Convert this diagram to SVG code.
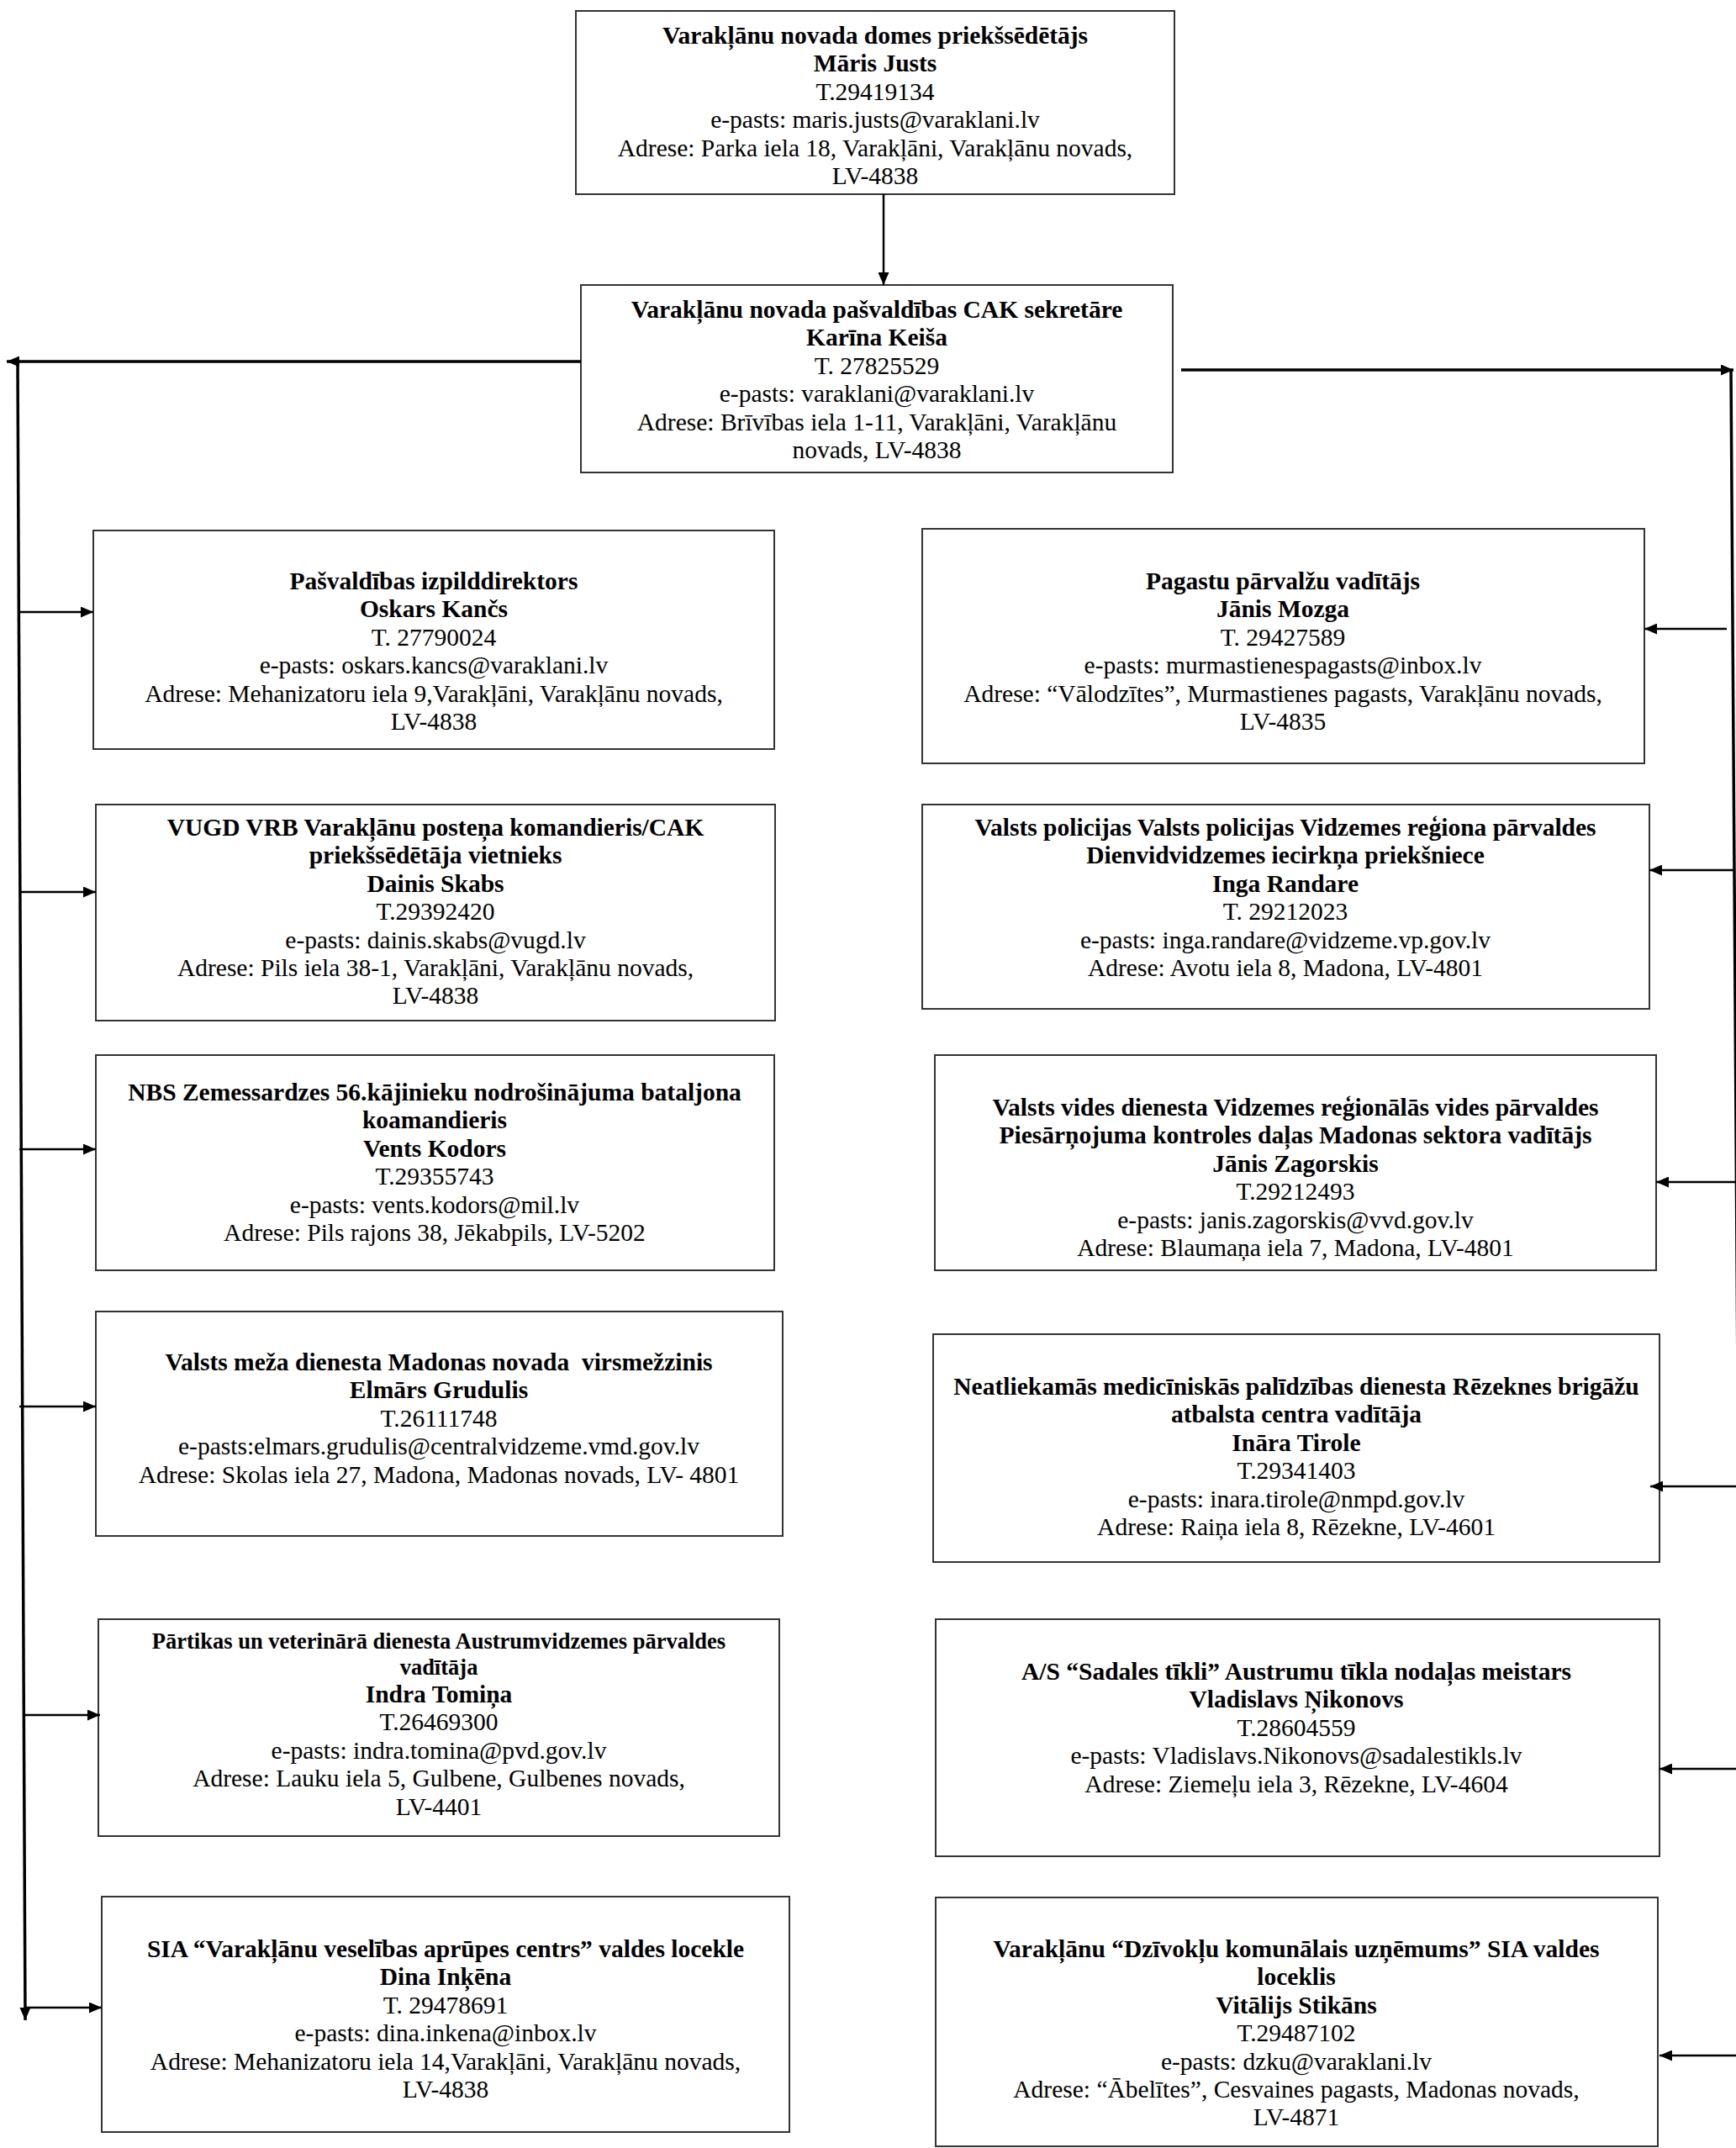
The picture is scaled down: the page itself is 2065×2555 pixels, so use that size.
<svg xmlns="http://www.w3.org/2000/svg" width="2065" height="2555" viewBox="0 0 2065 2555">
<style>
.bg{fill:#fff}
.box{fill:#fff;stroke:#333;stroke-width:2}
.t{font-family:"Liberation Serif","Times New Roman",serif;font-size:29.5px;text-anchor:middle;fill:#000}
.b{font-weight:bold}
.s{font-size:26.5px}
.ln{stroke:#000;stroke-width:2.5;fill:none}
.tr{stroke:#000;stroke-width:3.5;fill:none}
</style>
<defs>
<marker id="ah" viewBox="0 0 15 13" refX="15" refY="6.5" markerWidth="15" markerHeight="13" orient="auto" markerUnits="userSpaceOnUse">
<path d="M0,0 L15,6.5 L0,13 z" fill="#000"/>
</marker>
</defs>
<rect class="bg" x="0" y="0" width="2065" height="2555"/>

<g id="n-top">
<rect class="box" x="685" y="13" width="712" height="218"/>
<text class="t b" x="1041" y="52">Varakļānu novada domes priekšsēdētājs</text>
<text class="t b" x="1041" y="85.4">Māris Justs</text>
<text class="t" x="1041" y="118.8">T.29419134</text>
<text class="t" x="1041" y="152.2">e-pasts: maris.justs@varaklani.lv</text>
<text class="t" x="1041" y="185.6">Adrese: Parka iela 18, Varakļāni, Varakļānu novads,</text>
<text class="t" x="1041" y="219">LV-4838</text>
</g>

<g id="n-cak">
<rect class="box" x="691" y="339" width="704" height="223"/>
<text class="t b" x="1043" y="378">Varakļānu novada pašvaldības CAK sekretāre</text>
<text class="t b" x="1043" y="411.4">Karīna Keiša</text>
<text class="t" x="1043" y="444.8">T. 27825529</text>
<text class="t" x="1043" y="478.2">e-pasts: varaklani@varaklani.lv</text>
<text class="t" x="1043" y="511.6">Adrese: Brīvības iela 1-11, Varakļāni, Varakļānu</text>
<text class="t" x="1043" y="545">novads, LV-4838</text>
</g>

<g id="n-l1">
<rect class="box" x="111" y="631" width="810" height="260"/>
<text class="t b" x="516" y="701">Pašvaldības izpilddirektors</text>
<text class="t b" x="516" y="734.4">Oskars Kančs</text>
<text class="t" x="516" y="767.8">T. 27790024</text>
<text class="t" x="516" y="801.2">e-pasts: oskars.kancs@varaklani.lv</text>
<text class="t" x="516" y="834.6">Adrese: Mehanizatoru iela 9,Varakļāni, Varakļānu novads,</text>
<text class="t" x="516" y="868">LV-4838</text>
</g>

<g id="n-l2">
<rect class="box" x="114" y="957" width="808" height="257"/>
<text class="t b" x="518" y="994">VUGD VRB Varakļānu posteņa komandieris/CAK</text>
<text class="t b" x="518" y="1027.4">priekšsēdētāja vietnieks</text>
<text class="t b" x="518" y="1060.8">Dainis Skabs</text>
<text class="t" x="518" y="1094.2">T.29392420</text>
<text class="t" x="518" y="1127.6">e-pasts: dainis.skabs@vugd.lv</text>
<text class="t" x="518" y="1161">Adrese: Pils iela 38-1, Varakļāni, Varakļānu novads,</text>
<text class="t" x="518" y="1194.4">LV-4838</text>
</g>

<g id="n-l3">
<rect class="box" x="114" y="1255" width="807" height="256"/>
<text class="t b" x="517" y="1309">NBS Zemessardzes 56.kājinieku nodrošinājuma bataljona</text>
<text class="t b" x="517" y="1342.4">koamandieris</text>
<text class="t b" x="517" y="1375.8">Vents Kodors</text>
<text class="t" x="517" y="1409.2">T.29355743</text>
<text class="t" x="517" y="1442.6">e-pasts: vents.kodors@mil.lv</text>
<text class="t" x="517" y="1476">Adrese: Pils rajons 38, Jēkabpils, LV-5202</text>
</g>

<g id="n-l4">
<rect class="box" x="114" y="1560" width="817" height="267"/>
<text class="t b" x="522" y="1630" xml:space="preserve">Valsts meža dienesta Madonas novada  virsmežzinis</text>
<text class="t b" x="522" y="1663.4">Elmārs Grudulis</text>
<text class="t" x="522" y="1696.8">T.26111748</text>
<text class="t" x="522" y="1730.2">e-pasts:elmars.grudulis@centralvidzeme.vmd.gov.lv</text>
<text class="t" x="522" y="1763.6">Adrese: Skolas iela 27, Madona, Madonas novads, LV- 4801</text>
</g>

<g id="n-l5">
<rect class="box" x="117" y="1926" width="810" height="258"/>
<text class="t b s" x="522" y="1961">Pārtikas un veterinārā dienesta Austrumvidzemes pārvaldes</text>
<text class="t b s" x="522" y="1992">vadītāja</text>
<text class="t b" x="522" y="2025">Indra Tomiņa</text>
<text class="t" x="522" y="2058.4">T.26469300</text>
<text class="t" x="522" y="2091.8">e-pasts: indra.tomina@pvd.gov.lv</text>
<text class="t" x="522" y="2125.2">Adrese: Lauku iela 5, Gulbene, Gulbenes novads,</text>
<text class="t" x="522" y="2158.6">LV-4401</text>
</g>

<g id="n-l6">
<rect class="box" x="121" y="2256" width="818" height="280"/>
<text class="t b" x="530" y="2328">SIA “Varakļānu veselības aprūpes centrs” valdes locekle</text>
<text class="t b" x="530" y="2361.4">Dina Inķēna</text>
<text class="t" x="530" y="2394.8">T. 29478691</text>
<text class="t" x="530" y="2428.2">e-pasts: dina.inkena@inbox.lv</text>
<text class="t" x="530" y="2461.6">Adrese: Mehanizatoru iela 14,Varakļāni, Varakļānu novads,</text>
<text class="t" x="530" y="2495">LV-4838</text>
</g>

<g id="n-r1">
<rect class="box" x="1097" y="629" width="859" height="279"/>
<text class="t b" x="1526" y="701">Pagastu pārvalžu vadītājs</text>
<text class="t b" x="1526" y="734.4">Jānis Mozga</text>
<text class="t" x="1526" y="767.8">T. 29427589</text>
<text class="t" x="1526" y="801.2">e-pasts: murmastienespagasts@inbox.lv</text>
<text class="t" x="1526" y="834.6">Adrese: “Vālodzītes”, Murmastienes pagasts, Varakļānu novads,</text>
<text class="t" x="1526" y="868">LV-4835</text>
</g>

<g id="n-r2">
<rect class="box" x="1097" y="957" width="865" height="243"/>
<text class="t b" x="1529" y="994">Valsts policijas Valsts policijas Vidzemes reģiona pārvaldes</text>
<text class="t b" x="1529" y="1027.4">Dienvidvidzemes iecirkņa priekšniece</text>
<text class="t b" x="1529" y="1060.8">Inga Randare</text>
<text class="t" x="1529" y="1094.2">T. 29212023</text>
<text class="t" x="1529" y="1127.6">e-pasts: inga.randare@vidzeme.vp.gov.lv</text>
<text class="t" x="1529" y="1161">Adrese: Avotu iela 8, Madona, LV-4801</text>
</g>

<g id="n-r3">
<rect class="box" x="1112" y="1255" width="858" height="256"/>
<text class="t b" x="1541" y="1327">Valsts vides dienesta Vidzemes reģionālās vides pārvaldes</text>
<text class="t b" x="1541" y="1360.4">Piesārņojuma kontroles daļas Madonas sektora vadītājs</text>
<text class="t b" x="1541" y="1393.8">Jānis Zagorskis</text>
<text class="t" x="1541" y="1427.2">T.29212493</text>
<text class="t" x="1541" y="1460.6">e-pasts: janis.zagorskis@vvd.gov.lv</text>
<text class="t" x="1541" y="1494">Adrese: Blaumaņa iela 7, Madona, LV-4801</text>
</g>

<g id="n-r4">
<rect class="box" x="1110" y="1587" width="864" height="271"/>
<text class="t b" x="1542" y="1659">Neatliekamās medicīniskās palīdzības dienesta Rēzeknes brigāžu</text>
<text class="t b" x="1542" y="1692.4">atbalsta centra vadītāja</text>
<text class="t b" x="1542" y="1725.8">Ināra Tirole</text>
<text class="t" x="1542" y="1759.2">T.29341403</text>
<text class="t" x="1542" y="1792.6">e-pasts: inara.tirole@nmpd.gov.lv</text>
<text class="t" x="1542" y="1826">Adrese: Raiņa iela 8, Rēzekne, LV-4601</text>
</g>

<g id="n-r5">
<rect class="box" x="1113" y="1926" width="861" height="282"/>
<text class="t b" x="1542" y="1998">A/S “Sadales tīkli” Austrumu tīkla nodaļas meistars</text>
<text class="t b" x="1542" y="2031.4">Vladislavs Ņikonovs</text>
<text class="t" x="1542" y="2064.8">T.28604559</text>
<text class="t" x="1542" y="2098.2">e-pasts: Vladislavs.Nikonovs@sadalestikls.lv</text>
<text class="t" x="1542" y="2131.6">Adrese: Ziemeļu iela 3, Rēzekne, LV-4604</text>
</g>

<g id="n-r6">
<rect class="box" x="1113" y="2257" width="859" height="296"/>
<text class="t b" x="1542" y="2328">Varakļānu “Dzīvokļu komunālais uzņēmums” SIA valdes</text>
<text class="t b" x="1542" y="2361.4">loceklis</text>
<text class="t b" x="1542" y="2394.8">Vitālijs Stikāns</text>
<text class="t" x="1542" y="2428.2">T.29487102</text>
<text class="t" x="1542" y="2461.6">e-pasts: dzku@varaklani.lv</text>
<text class="t" x="1542" y="2495">Adrese: “Ābelītes”, Cesvaines pagasts, Madonas novads,</text>
<text class="t" x="1542" y="2528.4">LV-4871</text>
</g>

<g id="connectors">
<line class="ln" x1="1051" y1="231" x2="1051" y2="339" marker-end="url(#ah)"/>
<line class="tr" x1="691" y1="430" x2="8" y2="430" marker-end="url(#ah)"/>
<line class="tr" x1="21" y1="430" x2="30" y2="2403" marker-end="url(#ah)"/>
<line class="ln" x1="22" y1="728" x2="111" y2="728" marker-end="url(#ah)"/>
<line class="ln" x1="24" y1="1061" x2="114" y2="1061" marker-end="url(#ah)"/>
<line class="ln" x1="23" y1="1367" x2="114" y2="1367" marker-end="url(#ah)"/>
<line class="ln" x1="23" y1="1673" x2="114" y2="1673" marker-end="url(#ah)"/>
<line class="ln" x1="30" y1="2040" x2="119" y2="2040" marker-end="url(#ah)"/>
<line class="ln" x1="30" y1="2388" x2="121" y2="2388" marker-end="url(#ah)"/>
<line class="tr" x1="1405" y1="440" x2="2062" y2="440" marker-end="url(#ah)"/>
<line class="tr" x1="2059" y1="440" x2="2067" y2="1640"/>
<line class="ln" x1="2054" y1="748" x2="1956" y2="748" marker-end="url(#ah)"/>
<line class="ln" x1="2062" y1="1035" x2="1962" y2="1035" marker-end="url(#ah)"/>
<line class="ln" x1="2065" y1="1406" x2="1970" y2="1406" marker-end="url(#ah)"/>
<line class="ln" x1="2065" y1="1768" x2="1963" y2="1768" marker-end="url(#ah)"/>
<line class="ln" x1="2065" y1="2104" x2="1974" y2="2104" marker-end="url(#ah)"/>
<line class="ln" x1="2065" y1="2445" x2="1974" y2="2445" marker-end="url(#ah)"/>
</g>
</svg>
